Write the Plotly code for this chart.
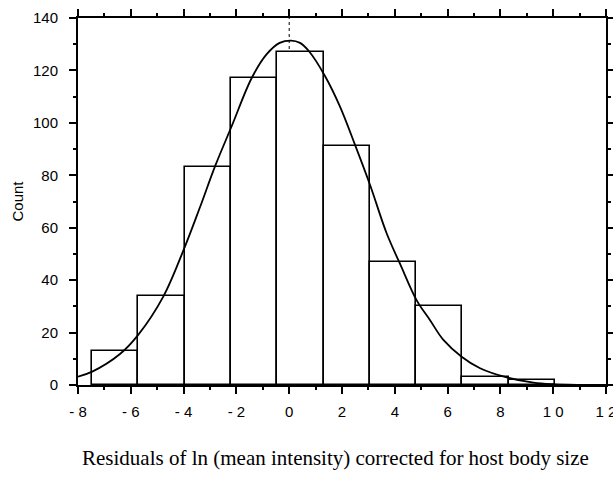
import plotly.graph_objects as go

# Histogram data
bin_left = [-7.47, -5.716, -3.962, -2.208, -0.454, 1.30, 3.054, 4.808, 6.562, 8.316]
bin_width = 1.754
counts = [13, 34, 83, 117, 127, 91, 47, 30, 3, 2]

# Fitted curve
curve_x = [-8.0, -7.46, -6.41, -5.72, -4.77, -3.95, -3.38, -2.81, -2.18, -1.42, -0.86, -0.36,
           0.07, 0.41, 0.75, 1.36, 1.92, 2.49, 3.06, 3.69, 4.20, 4.83, 5.33, 5.84, 6.53, 7.23,
           8.24, 9.25, 10.0, 11.0, 12.0]
curve_y = [3.2, 5.1, 11.8, 19.1, 33.7, 52.8, 67.8, 83.4, 98.7, 117.1, 126.1, 130.5,
           131.4, 130.5, 127.3, 117.8, 106.3, 91.7, 76.4, 57.9, 46.2, 32.3, 24.8, 17.2, 10.8, 6.4,
           2.9, 0.9, 0.3, 0.05, 0.0]

x_ticks = [-8, -6, -4, -2, 0, 2, 4, 6, 8, 10, 12]
x_ticktext = ["- 8", "- 6", "- 4", "- 2", "0", "2", "4", "6", "8", "1 0", "1 2"]
y_ticks = [0, 20, 40, 60, 80, 100, 120, 140]

centers = [l + bin_width / 2 for l in bin_left]

fig = go.Figure()
fig.add_trace(go.Bar(
    x=centers, y=counts, width=[bin_width] * len(counts),
    marker=dict(color="white", line=dict(color="black", width=1.6)),
    showlegend=False, hoverinfo="skip",
))
fig.add_trace(go.Scatter(
    x=curve_x, y=curve_y, mode="lines", line=dict(color="black", width=1.8, shape="spline"),
    showlegend=False, hoverinfo="skip",
))

fig.add_shape(type="line", x0=0, x1=0, y0=0, y1=140, xref="x", yref="y",
              line=dict(color="black", width=1, dash="dot"), layer="below")

tickfont = dict(family="Liberation Sans, Arial, sans-serif", size=15, color="black")

fig.update_xaxes(
    range=[-8, 12], tickvals=x_ticks, ticktext=x_ticktext, automargin=False,
    ticklabeloverflow="allow",
    showline=True, linecolor="black", linewidth=2, mirror="allticks",
    ticks="outside", ticklen=7, tickwidth=1.5, tickcolor="black",
    minor=dict(ticks="outside", ticklen=3, dtick=1, tickwidth=1.5, tickcolor="black"),
    showgrid=False, zeroline=False, tickfont=tickfont, ticklabelstandoff=5,
)
fig.update_yaxes(
    range=[0, 140], tickvals=y_ticks, automargin=False,
    showline=True, linecolor="black", linewidth=2, mirror="allticks",
    ticks="outside", ticklen=7, tickwidth=1.5, tickcolor="black",
    minor=dict(ticks="outside", ticklen=3, dtick=10, tickwidth=1.5, tickcolor="black"),
    showgrid=False, zeroline=False, tickfont=tickfont, ticklabelstandoff=8,
)

fig.add_annotation(text="Count", xref="paper", yref="paper", x=0, y=0.5,
                   xshift=-61, textangle=-90, showarrow=False,
                   xanchor="center", yanchor="middle",
                   font=dict(family="Liberation Sans, Arial, sans-serif", size=15, color="black"))
fig.add_annotation(text="Residuals of ln (mean intensity) corrected for host body size",
                   xref="paper", yref="paper", x=0.5, y=0, yshift=-73, xshift=-7, showarrow=False,
                   xanchor="center", yanchor="middle",
                   font=dict(family="Liberation Serif, Times New Roman, serif", size=21, color="black"))

fig.update_layout(
    width=613, height=485,
    margin=dict(l=78, r=7, t=18, b=100, autoexpand=False),
    plot_bgcolor="white", paper_bgcolor="white",
    bargap=0,
)

fig.write_html("out.html", config={"displayModeBar": False},
               post_script="document.body.style.margin='0';document.body.style.overflow='hidden';")
